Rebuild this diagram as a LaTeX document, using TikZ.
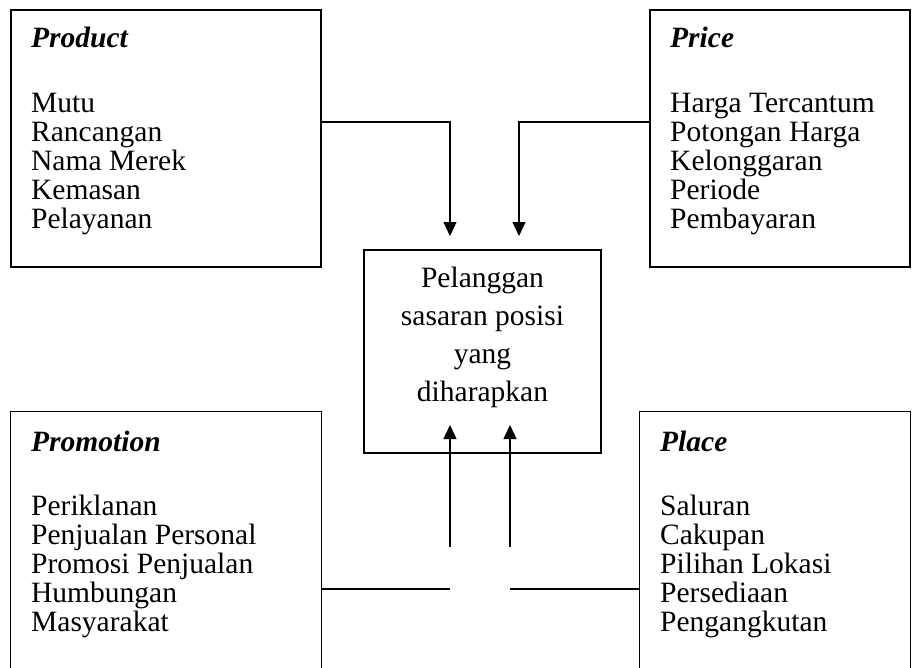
\documentclass[tikz,border=0pt]{standalone}
\usepackage{fontspec}
\setmainfont{Liberation Serif}
\usetikzlibrary{positioning,arrows.meta}

\tikzset{
    box/.style={rectangle, inner sep=0pt, minimum width=310pt, minimum height=257pt},
    item/.style={anchor=base west, inner sep=0pt, font=\fontsize{29.5}{29}\selectfont},
    head/.style={item, font=\fontsize{29.5}{29}\selectfont\bfseries\itshape},
    link/.style={line width=1.3pt},
    arrow/.style={link, -{Triangle[width=13pt,length=14pt]}}
}

\begin{document}
\begin{tikzpicture}[x=1pt,y=-1pt]
        \useasboundingbox (0,0) rectangle (921,667);

        % Product
        \node[box, draw, line width=1.2pt] (prod) at (166,138.5) {};
        \node[head] (prodT) at (31,47) {Product};
        \foreach \t [count=\i] in {Mutu,Rancangan,Nama Merek,Kemasan,Pelayanan}
            \node[item] (prod\i) at (31,{112+29*(\i-1)}) {\t};

        % Price
        \node[box, draw, line width=1.2pt, minimum width=260pt] (price) at (780,138.5) {};
        \node[head] (priceT) at (670,47) {Price};
        \foreach \t [count=\i] in {Harga Tercantum,Potongan Harga,Kelonggaran,Periode,Pembayaran}
            \node[item] (price\i) at (670,{112+29*(\i-1)}) {\t};

        % Pelanggan sasaran
        \node[box, draw, line width=1.2pt, minimum width=237pt, minimum height=203pt] (cust) at (482.5,351.5) {};
        \foreach \t [count=\i] in {Pelanggan,sasaran posisi,yang,diharapkan}
            \node[item, anchor=base] (cust\i) at (482.5,{287+38.2*(\i-1)}) {\t};

        % Promotion (open at the bottom)
        \node[box] (prom) at (166,540.5) {};
        \draw[line width=1.2pt] (prom.south west) -- (prom.north west) -- (prom.north east) -- (prom.south east);
        \node[head] (promT) at (31,451) {Promotion};
        \foreach \t [count=\i] in {Periklanan,Penjualan Personal,Promosi Penjualan,Humbungan,Masyarakat}
            \node[item] (prom\i) at (31,{515+29*(\i-1)}) {\t};

        % Place (open at the bottom)
        \node[box, minimum width=270pt] (place) at (775,540.5) {};
        \draw[line width=1.2pt] (place.south west) -- (place.north west) -- (place.north east) -- (place.south east);
        \node[head] (placeT) at (660,451) {Place};
        \foreach \t [count=\i] in {Saluran,Cakupan,Pilihan Lokasi,Persediaan,Pengangkutan}
            \node[item] (place\i) at (660,{515+29*(\i-1)}) {\t};

        % connectors
        \coordinate (pa) at (450,236);
        \coordinate (pb) at (519,236);
        \draw[arrow] (prod.east |- 0,122) -| (pa);
        \draw[arrow] (price.west |- 0,122) -| (pb);

        \coordinate (ma) at (450,547);
        \coordinate (mb) at (510,547);
        \draw[arrow] (ma) -- (450,425);
        \draw[arrow] (mb) -- (510,425);
        \draw[link] (prom.east |- 0,589) -- (ma |- 0,589);
        \draw[link] (place.west |- 0,589) -- (mb |- 0,589);
    \end{tikzpicture}
\end{document}
